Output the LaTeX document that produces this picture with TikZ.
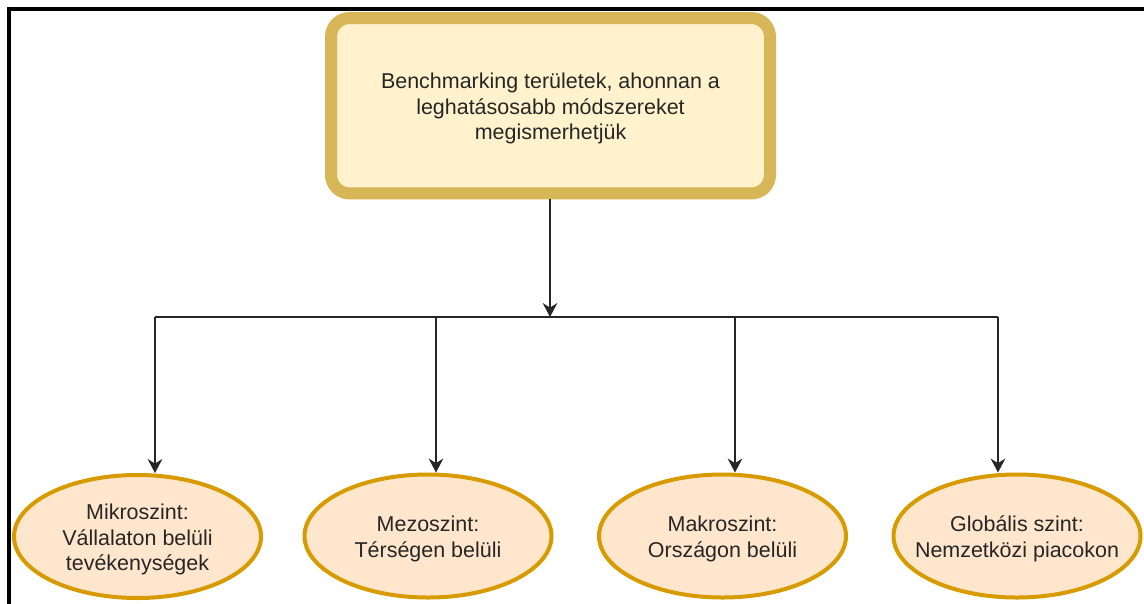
\documentclass[tikz,border=0pt]{standalone}
\usepackage{fontspec}
\setmainfont{Liberation Sans}
\usetikzlibrary{shapes.geometric,arrows.meta}
\definecolor{boxfill}{HTML}{FFF2CC}
\definecolor{boxline}{HTML}{D6B656}
\definecolor{ellfill}{HTML}{FFE6CC}
\definecolor{ellline}{HTML}{D79B00}
\definecolor{txt}{HTML}{262626}
\newcommand\lbltext[1]{\raisebox{-2.6pt}[\height][\depth]{\makebox[0pt]{\begin{tabular}{@{}c@{}}#1\end{tabular}}}}
\tikzset{
  topbox/.style={draw=boxline, fill=boxfill, line width=9pt, rounded corners=14pt,
    minimum width=329.25pt, minimum height=131.6pt, inner sep=0pt,
    text=txt, font=\fontsize{16.1}{19}\selectfont},
  level/.style={ellipse, draw=ellline, fill=ellfill, line width=3pt,
    minimum width=185.25pt, minimum height=92.25pt, inner sep=0pt,
    text=txt, font=\fontsize{16.1}{19}\selectfont},
  conn/.style={draw=black!85, line width=1.2pt},
  arr/.style={conn, -{Stealth[length=10.5pt, width=11pt, inset=3.5pt]}},
  frame/.style={draw=black, line width=2.8pt}
}
\begin{document}
\begin{tikzpicture}[x=0.75pt, y=-0.75pt]
\useasboundingbox (0,0) rectangle (1144,603);
\fill[white] (0,0) rectangle (1144,603);
\draw[frame] (9.2,610) -- (9.2,9.2) -- (1150,9.2);

\node[topbox] (top) at (550.5,105.75) {\lbltext{Benchmarking területek, ahonnan a\\leghatásosabb módszereket\\megismerhetjük}};

\node[level] (e1) at (137.5,536.5) {\lbltext{Mikroszint:\\Vállalaton belüli\\tevékenységek}};
\node[level] (e2) at (428,536) {\lbltext{Mezoszint:\\Térségen belüli}};
\node[level] (e3) at (722.5,536) {\lbltext{Makroszint:\\Országon belüli}};
\node[level] (e4) at (1017,536) {\lbltext{Globális szint:\\Nemzetközi piacokon}};

\coordinate (j0) at (550,317);
\coordinate (j1) at (155,317);
\coordinate (j2) at (436,317);
\coordinate (j3) at (735,317);
\coordinate (j4) at (998,317);

\draw[arr] (top.south -| j0) -- (j0);
\draw[conn] (j1) -- (j4);
\draw[arr] (j1) -- (j1 |- e1.north);
\draw[arr] (j2) -- (j2 |- e2.north);
\draw[arr] (j3) -- (j3 |- e3.north);
\draw[arr] (j4) -- (j4 |- e4.north);
\end{tikzpicture}
\end{document}
